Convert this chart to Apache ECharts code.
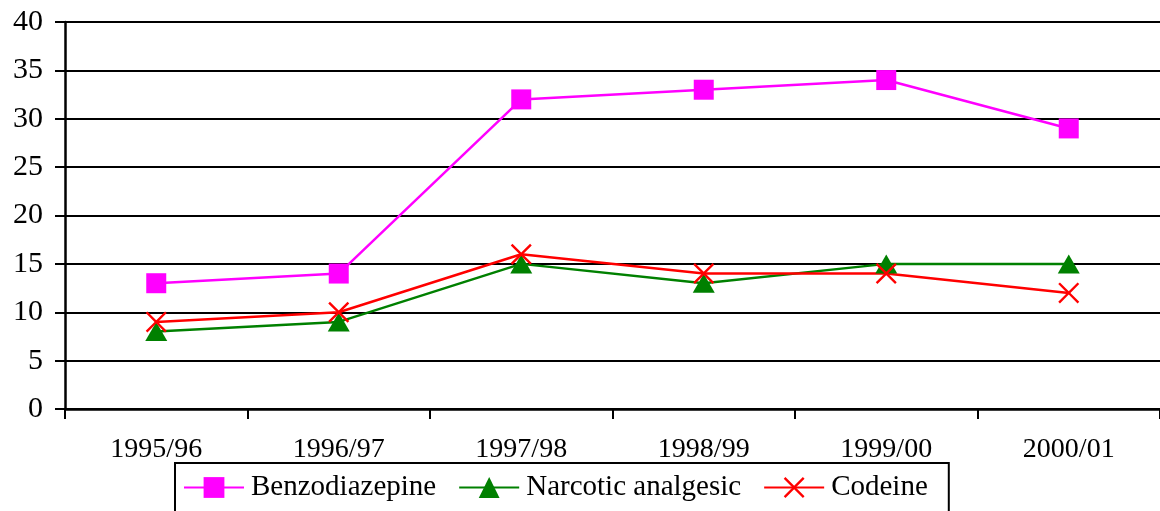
<!DOCTYPE html>
<html>
<head>
<meta charset="utf-8">
<script src="https://cdn.jsdelivr.net/npm/echarts@6/dist/echarts.min.js"></script>
<style>
html,body{margin:0;padding:0;background:#fff;}
#c{width:1160px;height:511px;}
</style>
</head>
<body>
<div id="c"></div>
<script>
const categories = ['1995/96','1996/97','1997/98','1998/99','1999/00','2000/01'];
const benzodiazepine = [13, 14, 32, 33, 34, 29];
const narcoticAnalgesic = [8, 9, 15, 13, 15, 15];
const codeine = [9, 10, 16, 14, 14, 12];
const seriesNames = ['Benzodiazepine', 'Narcotic analgesic', 'Codeine'];

const FONT = "'Liberation Serif'";
const crossPath = 'path://M0,1.6L1.6,0L10,8.4L18.4,0L20,1.6L11.6,10L20,18.4L18.4,20L10,11.6L1.6,20L0,18.4L8.4,10Z';

const chart = echarts.init(document.getElementById('c'), null, {renderer: 'canvas'});
chart.setOption({
  backgroundColor: '#fff',
  animation: false,
  textStyle: {fontFamily: FONT, color: '#000'},
  grid: {left: 65, top: 22, width: 1097, bottom: 102, containLabel: false},
  xAxis: {
    type: 'category',
    data: categories,
    boundaryGap: true,
    axisLine: {lineStyle: {color: '#000', width: 2.5}},
    axisTick: {show: true, inside: false, length: 10, lineStyle: {color: '#000', width: 2}},
    axisLabel: {color: '#000', fontFamily: FONT, fontSize: 28, margin: 27},
    splitLine: {show: false}
  },
  yAxis: {
    type: 'value',
    min: 0, max: 40, interval: 5,
    axisLine: {show: true, lineStyle: {color: '#000', width: 2.5}},
    axisTick: {show: true, inside: false, length: 10, lineStyle: {color: '#000', width: 2}},
    axisLabel: {color: '#000', fontFamily: FONT, fontSize: 30, margin: 22},
    splitLine: {show: true, lineStyle: {color: '#000', width: 2}}
  },
  legend: {
    data: seriesNames,
    left: 175, top: 463,
    orient: 'horizontal',
    borderColor: '#000', borderWidth: 2,
    padding: [10, 21, 30, 8],
    itemGap: 22,
    itemWidth: 60, itemHeight: 26,
    textStyle: {fontFamily: FONT, fontSize: 29, color: '#000', padding: [4, 0, 0, 2]}
  },
  series: [
    {
      name: seriesNames[0], type: 'line', data: benzodiazepine,
      symbol: 'rect', symbolSize: 20,
      lineStyle: {color: '#FF00FF', width: 2.5},
      itemStyle: {color: '#FF00FF'}
    },
    {
      name: seriesNames[1], type: 'line', data: narcoticAnalgesic,
      symbol: 'triangle', symbolSize: [22, 19],
      lineStyle: {color: '#008000', width: 2.5},
      itemStyle: {color: '#008000'}
    },
    {
      name: seriesNames[2], type: 'line', data: codeine,
      symbol: crossPath, symbolSize: 21,
      lineStyle: {color: '#FF0000', width: 2.5},
      itemStyle: {color: '#FF0000'}
    }
  ]
});
</script>
</body>
</html>
